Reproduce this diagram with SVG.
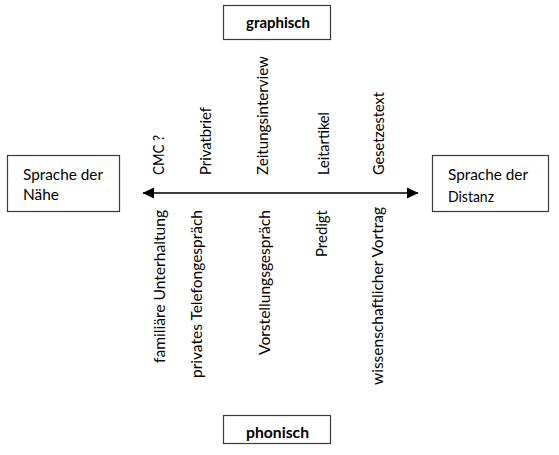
<svg xmlns="http://www.w3.org/2000/svg" width="559" height="455" viewBox="0 0 559 455">
<style>
.box{fill:#fff;stroke:#3a3a3a;stroke-width:1.2}
text{font-family:Lato,"Open Sans","Liberation Sans",sans-serif;font-size:14.67px;fill:#000}
.b{font-weight:bold}
.ln{stroke:#000;stroke-width:1.6;fill:none}
</style>
<defs>
<marker id="ah" markerWidth="12" markerHeight="12" viewBox="0 0 12 12" refX="11" refY="6" orient="auto-start-reverse" markerUnits="userSpaceOnUse">
<path d="M0,0.5 L11.5,6 L0,11.5 Z" fill="#000"/>
</marker>
</defs>
<rect width="559" height="455" fill="#fff"/>
<g id="connectors">
<line class="ln" x1="143" y1="193" x2="418" y2="193" marker-start="url(#ah)" marker-end="url(#ah)"/>
</g>
<g id="naehe">
<rect class="box" x="7.5" y="155.5" width="112" height="56"/>
<text x="23" y="180" textLength="80" lengthAdjust="spacingAndGlyphs">Sprache der</text>
<text x="23" y="200" textLength="36" lengthAdjust="spacingAndGlyphs">Nähe</text>
</g>
<g id="distanz">
<rect class="box" x="432.5" y="155.5" width="116" height="56"/>
<text x="448" y="180" textLength="80" lengthAdjust="spacingAndGlyphs">Sprache der</text>
<text x="448" y="202" textLength="46" lengthAdjust="spacingAndGlyphs">Distanz</text>
</g>
<g id="graphisch">
<rect class="box" x="223.5" y="5.5" width="107" height="34"/>
<text class="b" x="246" y="28" textLength="64" lengthAdjust="spacingAndGlyphs">graphisch</text>
</g>
<g id="phonisch">
<rect class="box" x="223.5" y="415.5" width="107" height="28"/>
<text class="b" x="246" y="438" textLength="63" lengthAdjust="spacingAndGlyphs">phonisch</text>
</g>
<g id="oben">
<text transform="translate(164,175) rotate(-90)" textLength="40" lengthAdjust="spacingAndGlyphs">CMC ?</text>
<text transform="translate(211,175) rotate(-90)" textLength="68" lengthAdjust="spacingAndGlyphs">Privatbrief</text>
<text transform="translate(268,175) rotate(-90)" textLength="119" lengthAdjust="spacingAndGlyphs">Zeitungsinterview</text>
<text transform="translate(329,175) rotate(-90)" textLength="63" lengthAdjust="spacingAndGlyphs">Leitartikel</text>
<text transform="translate(384,175) rotate(-90)" textLength="83" lengthAdjust="spacingAndGlyphs">Gesetzestext</text>
</g>
<g id="unten">
<text transform="translate(165,363) rotate(-90)" textLength="153" lengthAdjust="spacingAndGlyphs">familiäre Unterhaltung</text>
<text transform="translate(202,378) rotate(-90)" textLength="168" lengthAdjust="spacingAndGlyphs">privates Telefongespräch</text>
<text transform="translate(270,355) rotate(-90)" textLength="145" lengthAdjust="spacingAndGlyphs">Vorstellungsgespräch</text>
<text transform="translate(327,257) rotate(-90)" textLength="47" lengthAdjust="spacingAndGlyphs">Predigt</text>
<text transform="translate(383,385) rotate(-90)" textLength="178" lengthAdjust="spacingAndGlyphs">wissenschaftlicher Vortrag</text>
</g>
</svg>
